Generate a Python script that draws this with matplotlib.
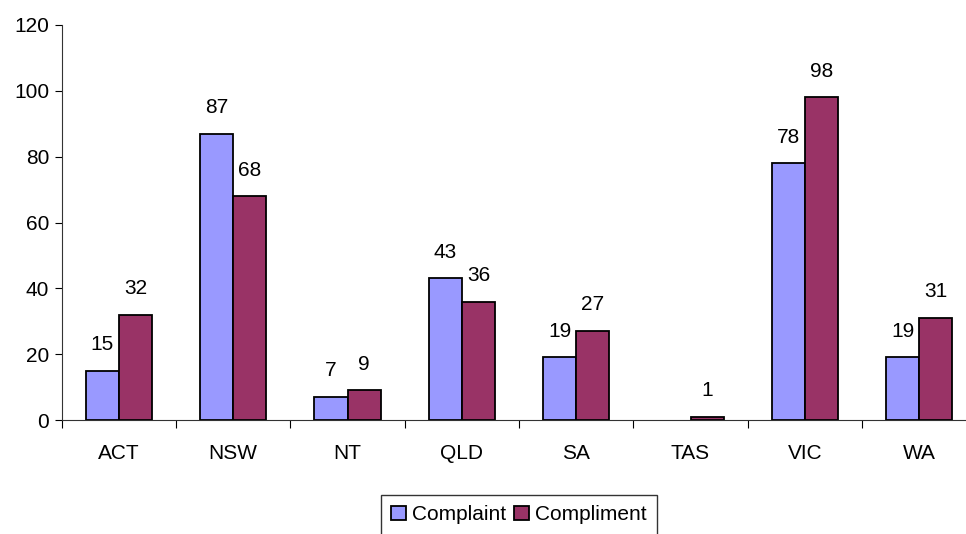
import matplotlib
matplotlib.use("Agg")
import matplotlib.pyplot as plt
import numpy as np

states = ["ACT", "NSW", "NT", "QLD", "SA", "TAS", "VIC", "WA"]
complaint = [15, 87, 7, 43, 19, 0, 78, 19]
compliment = [32, 68, 9, 36, 27, 1, 98, 31]
series_names = ["Complaint", "Compliment"]
colors = ["#9999FF", "#993366"]

plt.rcParams["font.family"] = ["Liberation Sans", "DejaVu Sans"]
FS = 15

W, H = 966, 534
fig = plt.figure(figsize=(W / 100, H / 100), dpi=100)
left_px, right_px, top_px, bottom_px = 61.7, 976.4, 25, 420
ax = fig.add_axes([left_px / W, (H - bottom_px) / H,
                   (right_px - left_px) / W, (bottom_px - top_px) / H])

x = np.arange(len(states))
bw = 0.29
for i, (vals, name, col) in enumerate(zip([complaint, compliment], series_names, colors)):
    pos = x + (i - 0.5) * bw
    vals = np.asarray(vals, dtype=float)
    lw = np.where(vals > 0, 1.3, 0.0)
    bars = ax.bar(pos, vals, width=bw, color=col, edgecolor="black",
                  linewidth=lw, label=name)
    for b, v in zip(bars, vals):
        if v > 0:
            ax.annotate(f"{v:g}", (b.get_x() + b.get_width() / 2, v),
                        xytext=(0, 12), textcoords="offset points",
                        ha="center", va="bottom", fontsize=FS)

ax.set_xlim(-0.5, len(states) - 0.5)
ax.set_ylim(0, 120)
ax.set_yticks(range(0, 121, 20))
ax.tick_params(axis="y", labelsize=FS, length=5, width=0.8, direction="out", pad=4)

# category labels centred, tick marks between categories
ax.set_xticks(x)
ax.set_xticklabels(states, fontsize=FS)
ax.tick_params(axis="x", which="major", length=0, pad=17)
ax.set_xticks(np.arange(-0.5, len(states), 1), minor=True)
ax.tick_params(axis="x", which="minor", length=6, width=0.8, direction="out")

for s in ["top", "right"]:
    ax.spines[s].set_visible(False)
for s in ["left", "bottom"]:
    ax.spines[s].set_linewidth(0.8)
    ax.spines[s].set_color("#333333")

leg = ax.legend(loc="upper center", bbox_to_anchor=(0.5, -0.19), ncol=2,
                fontsize=FS, frameon=True, fancybox=False, edgecolor="black",
                handlelength=0.7, handleheight=0.7, handletextpad=0.3,
                columnspacing=0.4, borderpad=0.5, borderaxespad=0)
leg.get_frame().set_linewidth(1.0)
for h in leg.legend_handles:
    h.set_linewidth(1.3)

fig.savefig("out.png", dpi=100)
